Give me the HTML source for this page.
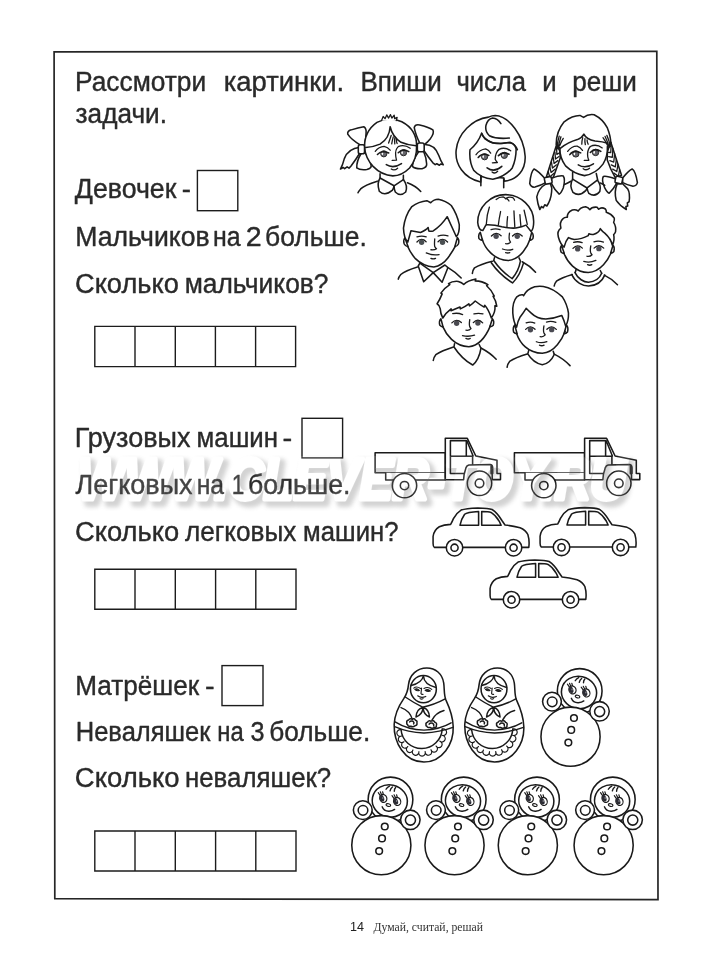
<!DOCTYPE html>
<html><head><meta charset="utf-8">
<style>
html,body{margin:0;padding:0;background:#fff;}
body{width:708px;height:960px;overflow:hidden;}
svg{display:block;}
.t{font-family:"Liberation Sans",sans-serif;font-size:27px;fill:#2a2a2a;stroke:#2a2a2a;stroke-width:0.4px;stroke-linejoin:round;}
.l{fill:none;stroke:#1a1a1a;stroke-width:1.55;stroke-linecap:round;stroke-linejoin:round;}
.lw{fill:#fff;stroke:#1a1a1a;stroke-width:1.55;stroke-linecap:round;stroke-linejoin:round;}
.ns *{vector-effect:non-scaling-stroke;}
.th{stroke-width:1.3 !important;}
.bx{fill:none;stroke:#1c1c1c;stroke-width:1.4;}
</style></head><body>
<svg width="708" height="960" viewBox="0 0 708 960">
<rect width="708" height="960" fill="#fff"/>
<!-- FRAME -->
<path d="M54.1 51.9L656.8 51.3L658 899.7L54.8 898.7Z" fill="none" stroke="#262626" stroke-width="1.7"/>
<!-- TEXT -->
<g class="t" opacity="0.995">
<text id="w1" x="75.0" y="91.4" textLength="131.2" lengthAdjust="spacingAndGlyphs">Рассмотри</text>
<text id="w2" x="223.7" y="91.4" textLength="120.5" lengthAdjust="spacingAndGlyphs">картинки.</text>
<text id="w3" x="360.4" y="91.4" textLength="81.3" lengthAdjust="spacingAndGlyphs">Впиши</text>
<text id="w4" x="456.4" y="91.4" textLength="69.6" lengthAdjust="spacingAndGlyphs">числа</text>
<text id="w5" x="542.2" y="91.4" textLength="14.4" lengthAdjust="spacingAndGlyphs">и</text>
<text id="w6" x="572.2" y="91.4" textLength="64.6" lengthAdjust="spacingAndGlyphs">реши</text>
<text id="w7" x="75.6" y="123.1" textLength="91.4" lengthAdjust="spacingAndGlyphs">задачи.</text>

<text id="w8" x="74.8" y="198.3" textLength="101.6" lengthAdjust="spacingAndGlyphs">Девочек</text>
<text id="w9" x="181.8" y="198.3" textLength="9.2" lengthAdjust="spacingAndGlyphs">-</text>
<text id="w10" x="75.2" y="245.6" textLength="134.4" lengthAdjust="spacingAndGlyphs">Мальчиков</text>
<text id="w11" x="213.0" y="245.6" textLength="27.6" lengthAdjust="spacingAndGlyphs">на</text>
<text id="w12" x="245.8" y="245.6" textLength="15.9" lengthAdjust="spacingAndGlyphs">2</text>
<text id="w13" x="265.0" y="245.6" textLength="101.8" lengthAdjust="spacingAndGlyphs">больше.</text>
<text id="w14" x="75.0" y="293" textLength="103.8" lengthAdjust="spacingAndGlyphs">Сколько</text>
<text id="w15" x="184.7" y="293" textLength="143.8" lengthAdjust="spacingAndGlyphs">мальчиков?</text>

<text id="w16" x="74.7" y="447" textLength="115.8" lengthAdjust="spacingAndGlyphs">Грузовых</text>
<text id="w17" x="196.6" y="447" textLength="81.4" lengthAdjust="spacingAndGlyphs">машин</text>
<text id="w18" x="282.4" y="447" textLength="9.7" lengthAdjust="spacingAndGlyphs">-</text>
<text id="w19" x="75.5" y="494" textLength="117.1" lengthAdjust="spacingAndGlyphs">Легковых</text>
<text id="w20" x="196.7" y="494" textLength="27.4" lengthAdjust="spacingAndGlyphs">на</text>
<text id="w21" x="231.8" y="494" textLength="12.6" lengthAdjust="spacingAndGlyphs">1</text>
<text id="w22" x="247.9" y="494" textLength="102.6" lengthAdjust="spacingAndGlyphs">больше.</text>
<text id="w23" x="75.0" y="540.5" textLength="104.3" lengthAdjust="spacingAndGlyphs">Сколько</text>
<text id="w24" x="184.9" y="540.5" textLength="111.5" lengthAdjust="spacingAndGlyphs">легковых</text>
<text id="w25" x="303.1" y="540.5" textLength="95.4" lengthAdjust="spacingAndGlyphs">машин?</text>

<text id="w26" x="75.2" y="694.5" textLength="123.9" lengthAdjust="spacingAndGlyphs">Матрёшек</text>
<text id="w27" x="205.0" y="694.5" textLength="9.6" lengthAdjust="spacingAndGlyphs">-</text>
<text id="w28" x="75.7" y="741.3" textLength="134.8" lengthAdjust="spacingAndGlyphs">Неваляшек</text>
<text id="w29" x="217.3" y="741.3" textLength="26.4" lengthAdjust="spacingAndGlyphs">на</text>
<text id="w30" x="250.6" y="741.3" textLength="14.0" lengthAdjust="spacingAndGlyphs">3</text>
<text id="w31" x="269.2" y="741.3" textLength="101.0" lengthAdjust="spacingAndGlyphs">больше.</text>
<text id="w32" x="74.8" y="787" textLength="104.8" lengthAdjust="spacingAndGlyphs">Сколько</text>
<text id="w33" x="185.0" y="787" textLength="146.2" lengthAdjust="spacingAndGlyphs">неваляшек?</text>
</g>
<!-- BOXES -->
<g class="bx">
<rect x="197.4" y="170.5" width="40.4" height="40.2"/>
<rect x="302" y="418.3" width="40.6" height="39.6"/>
<rect x="222" y="665.6" width="41" height="40"/>
<path d="M94.8 326.4H295.6V366.6H94.8ZM135 326.4V366.6M175.3 326.4V366.6M215.4 326.4V366.6M255.6 326.4V366.6"/>
<path d="M94.8 569.3H296V609.3H94.8ZM135 569.3V609.3M175.3 569.3V609.3M215.6 569.3V609.3M255.8 569.3V609.3"/>
<path d="M94.8 831H296V871H94.8ZM135 831V871M175.3 831V871M215.6 831V871M255.8 831V871"/>
</g>
<!-- FOOTER -->
<g opacity="0.995">
<text x="350" y="931" style='font-family:"Liberation Sans",sans-serif;font-size:13.5px;fill:#222;' textLength="14" lengthAdjust="spacingAndGlyphs">14</text>
<text x="373.5" y="931" style='font-family:"Liberation Serif",serif;font-size:12px;fill:#333;' textLength="109.5" lengthAdjust="spacingAndGlyphs">Думай, считай, решай</text>
</g>
<!-- ART -->
<g id="art">
<defs>
<g id="truck">
  <path class="lw" d="M375.1 452.8H445.3V472.8H375.1Z"/>
  <path class="lw" d="M385.7 472.8V480H445.3V472.8"/>
  <path class="lw" d="M445.3 479.8V438.3H467.3L475.8 456L497 460.2V473.4H500.5V479.6H492.2V473.4H492.7V467.6Q492.5 464.6 490.1 464.4L468.9 465Q466.8 465.6 466 467.6L464.1 474.5L463.6 479.8Z"/>
  <path class="l" d="M491.4 466V473.4" style="stroke-width:2.2"/>
  <path class="l" d="M463.8 473.4H450.4V440.6H466.3V456.2M450.4 456.3H472.6V464.2M466.9 440.8L473.1 456"/>
  <circle class="lw" cx="479.5" cy="483.3" r="12.2"/><circle class="lw" cx="479.5" cy="483.3" r="4.3"/>
  <circle class="lw" cx="404.5" cy="485.6" r="12.2"/><circle class="lw" cx="404.5" cy="485.6" r="4.2"/>
</g>
<g id="car" transform="translate(425,500) scale(0.15538)">
  <path class="lw" vector-effect="non-scaling-stroke" d="M60 305Q52 300 52 280V235Q56 195 92 172Q120 160 165 157Q175 140 183 120Q200 85 232 65Q262 54 340 51Q410 52 432 61Q465 82 495 132L515 161Q560 166 612 178Q648 192 662 222Q674 262 668 305Z"/>
  <path class="l" vector-effect="non-scaling-stroke" d="M225 163Q232 125 255 92Q270 78 345 74V163ZM365 163V74Q410 74 425 80Q455 98 478 137L490 163Z"/>
  <circle class="lw" vector-effect="non-scaling-stroke" cx="190" cy="307" r="53"/><circle class="lw" vector-effect="non-scaling-stroke" cx="190" cy="307" r="23"/>
  <circle class="lw" vector-effect="non-scaling-stroke" cx="570" cy="307" r="53"/><circle class="lw" vector-effect="non-scaling-stroke" cx="570" cy="307" r="23"/>
</g>
</defs>
<use href="#truck"/>
<use href="#truck" x="139.3" y="0"/>
<use href="#car"/>
<use href="#car" x="107" y="-0.3"/>
<use href="#car" x="57" y="52"/>

<defs>
<g id="nev" transform="translate(345,770) scale(0.11461)">
 <g class="lw" >
  <circle vector-effect="non-scaling-stroke" cx="397" cy="257" r="195"/>
  <ellipse vector-effect="non-scaling-stroke" cx="391" cy="270" rx="154" ry="141" transform="rotate(12 391 270)"/>
  <circle vector-effect="non-scaling-stroke" cx="317" cy="656" r="258"/>
  <circle vector-effect="non-scaling-stroke" cx="155" cy="350" r="82"/>
  <circle vector-effect="non-scaling-stroke" cx="157" cy="352" r="42"/>
  <circle vector-effect="non-scaling-stroke" cx="570" cy="435" r="85"/>
  <circle vector-effect="non-scaling-stroke" cx="571" cy="437" r="44"/>
  <circle vector-effect="non-scaling-stroke" cx="347" cy="493" r="29"/>
  <circle vector-effect="non-scaling-stroke" cx="323" cy="597" r="29"/>
  <circle vector-effect="non-scaling-stroke" cx="298" cy="707" r="29"/>
 </g>
 <g class="l" style="stroke-width:1.4">
  <path vector-effect="non-scaling-stroke" d="M358 168Q368 150 388 140M393 182Q398 160 414 148M430 186Q430 165 442 153"/>
  <path vector-effect="non-scaling-stroke" d="M324 321Q340 362 385 360Q415 358 433 344"/>
 </g>
 <g class="l" style="stroke-width:1.15">
  <ellipse vector-effect="non-scaling-stroke" cx="378" cy="306" rx="20" ry="12" transform="rotate(12 378 306)"/>
  <ellipse vector-effect="non-scaling-stroke" cx="334" cy="248" rx="31" ry="35" transform="rotate(-20 334 248)"/>
  <ellipse vector-effect="non-scaling-stroke" cx="455" cy="274" rx="31" ry="35" transform="rotate(-20 455 274)"/>
  <path vector-effect="non-scaling-stroke" d="M306 222L290 198M318 214L308 190M334 210L328 190M427 248L410 224M440 240L428 216M456 236L450 216"/>
 </g>
 <ellipse cx="322" cy="246" rx="19" ry="30" transform="rotate(-20 322 246)" fill="#2c2c34"/>
 <ellipse cx="443" cy="272" rx="19" ry="30" transform="rotate(-20 443 272)" fill="#2c2c34"/>
 <ellipse cx="330" cy="244" rx="5" ry="9" fill="#9a9aa0"/><ellipse cx="451" cy="270" rx="5" ry="9" fill="#9a9aa0"/>
</g>
</defs>
<use href="#nev"/>
<use href="#nev" x="73.2" y="0"/>
<use href="#nev" x="146.5" y="0"/>
<use href="#nev" x="222.3" y="0"/>
<use href="#nev" x="189.2" y="-108.5"/>


<defs>
<g id="mat" transform="translate(385,660) scale(0.11461)">
 <path class="lw" vector-effect="non-scaling-stroke" d="M365 70C280 70 215 130 205 215C200 270 188 300 165 335C120 400 85 470 80 560C75 720 170 890 340 890C500 890 602 730 595 580C592 480 560 410 532 350C512 300 520 250 512 200C500 120 440 70 365 70Z"/>
 <ellipse class="lw" vector-effect="non-scaling-stroke" cx="335" cy="254" rx="113" ry="119"/>
 <g class="l" style="stroke-width:1.45">
  <path vector-effect="non-scaling-stroke" d="M335 138Q322 200 228 222M335 138Q340 215 445 240"/>
  <path vector-effect="non-scaling-stroke" d="M180 325Q250 372 328 412Q430 392 525 340"/>
  <path vector-effect="non-scaling-stroke" d="M326 414Q275 430 270 497Q325 478 331 420M336 414Q385 432 388 497Q338 478 333 420"/>
  <path vector-effect="non-scaling-stroke" d="M140 415Q215 440 240 520M515 440Q440 460 410 525"/>
  <path vector-effect="non-scaling-stroke" d="M88 540Q200 610 340 612Q480 605 577 548M84 582Q200 632 340 637Q480 630 592 588"/>
  <path vector-effect="non-scaling-stroke" style="stroke-width:1.5" d="M140 609 A180 180 0 0 0 499 603"/>
  <path vector-effect="non-scaling-stroke" style="stroke-width:1.15" d="M140 609A29 29 0 1 0 145 663A29 29 0 1 0 165 713A29 29 0 1 0 199 755A29 29 0 1 0 244 785A29 29 0 1 0 296 800A29 29 0 1 0 350 799A29 29 0 1 0 401 783A29 29 0 1 0 445 751A29 29 0 1 0 478 708A29 29 0 1 0 497 657A29 29 0 1 0 499 603"/>
 </g>
 <g class="l" style="stroke-width:1.1">
  <path vector-effect="non-scaling-stroke" style="stroke-width:1.5" d="M190 548Q186 528 205 524Q215 508 235 516Q255 505 265 525Q285 530 278 550Q285 568 262 574Q245 590 225 578Q200 582 198 565Q186 560 190 548ZM215 540Q225 528 245 535Q258 545 250 558"/>
  <path vector-effect="non-scaling-stroke" style="stroke-width:1.5" d="M358 568Q352 548 372 542Q380 524 402 534Q425 522 436 544Q456 550 448 572Q452 590 428 590Q410 600 392 588Q368 592 366 578Q355 575 358 568ZM385 560Q395 546 415 552Q430 560 425 575"/>
  <path vector-effect="non-scaling-stroke" d="M251 245Q275 224 310 249M340 249Q375 228 408 257"/>
  <path vector-effect="non-scaling-stroke" d="M260 256Q282 244 300 266Q278 274 260 256ZM350 264Q374 250 396 270Q372 280 350 264Z" fill="#444"/>
  <path vector-effect="non-scaling-stroke" d="M319 245Q316 275 314 292Q318 302 332 300"/>
  <path vector-effect="non-scaling-stroke" d="M285 312Q315 336 356 318M306 337Q319 346 332 337"/>
 </g>
</g>
</defs>
<use href="#mat"/>
<use href="#mat" x="70.6" y="0"/>


<g id="f1" class="ns" transform="translate(335,105) scale(0.15538)">
 <!-- pigtails -->
 <path class="lw" d="M160 272Q85 280 60 345Q50 385 35 412L52 402L62 410L78 398L90 406L102 394Q135 350 158 312Z"/>
 <path class="lw" d="M570 255Q640 250 668 325Q680 360 697 385L680 380L672 388L655 378L645 384L630 372Q600 335 575 298Z"/>
 <!-- bows -->
 <path class="lw" d="M170 262Q105 225 82 188Q78 168 105 160Q150 145 185 140Q203 150 200 180Q198 225 192 258Z"/>
 <path class="lw" d="M168 312Q138 362 140 405Q160 420 205 415Q238 408 232 385Q222 345 196 308Z"/>
 <path class="lw" d="M548 250Q518 190 510 145Q515 122 545 128Q600 140 630 160Q640 180 615 215Q595 240 575 255Z"/>
 <path class="lw" d="M540 298Q500 355 498 395Q515 412 560 410Q592 402 590 380Q588 340 570 298Z"/>
 <!-- head -->
 <path class="lw" d="M190 272Q188 170 270 112Q350 70 430 108Q528 160 525 265Q528 345 480 405Q430 455 372 456Q300 452 245 395Q195 340 190 272Z"/>
 <rect class="lw" x="150" y="256" width="40" height="58" rx="12"/>
 <rect class="lw" x="530" y="245" width="44" height="56" rx="12"/>
 <!-- hair -->
 <path class="l" d="M355 140Q350 215 290 252Q250 270 198 273M355 140Q370 205 425 240Q470 260 522 262"/>
 <path class="lw th" d="M300 99L310 74L322 88L333 64L345 84L357 62L366 84L381 66L384 88L400 80L394 101"/>
 <path class="l th" d="M362 195Q352 225 345 245M375 205Q368 230 365 250M385 212Q382 235 385 250M395 222Q395 238 400 248"/>
 <!-- face -->
 <path class="l th" d="M259 298Q282 268 316 266Q340 272 355 291M484 278Q445 252 407 268Q385 288 391 330Q393 345 396 355L368 357"/>
 <circle cx="314" cy="314" r="20" fill="#66666c" stroke="#2a2a2a" stroke-width="1"/><circle cx="441" cy="307" r="20" fill="#66666c" stroke="#2a2a2a" stroke-width="1"/>
 <ellipse cx="305" cy="312" rx="5" ry="10" fill="#fff"/><ellipse cx="432" cy="305" rx="5" ry="10" fill="#fff"/>
 <path class="l" d="M273 318Q300 288 346 309M407 307Q436 278 475 300"/>
 <path class="l" d="M330 384Q375 412 428 377"/><path class="l th" d="M362 412Q382 426 403 407"/>
 <!-- neck + collar -->
 <path class="l" d="M290 442V472M440 452V482"/>
 <path class="lw" d="M290 470Q268 505 285 555Q320 590 368 550Q378 535 380 520Z"/>
 <path class="lw" d="M440 480Q470 520 455 560Q420 592 388 560Q380 540 380 520Z"/>
 <path class="l" d="M272 490Q190 515 165 540Q152 555 148 565M466 500Q520 520 552 556"/>
</g>

<g id="f2" class="ns" transform="translate(440,105) scale(0.15538)">
 <path class="lw" d="M262 496C150 470 95 380 104 290C115 185 205 92 312 78Q335 68 355 68C445 72 540 200 548 330C552 420 495 482 415 490L410 470L265 458Z"/>
 <path class="lw" d="M268 182Q245 245 193 288Q186 365 218 422Q262 470 340 478Q420 462 465 405Q490 350 490 282Q485 258 470 250Q440 238 400 248Q330 250 290 218Q274 200 268 182Z"/>
 <path class="l" d="M392 120Q372 88 338 84Q306 92 296 130Q288 170 318 198Q360 220 446 213"/>
 <path class="l" d="M268 182Q282 222 340 244Q400 252 450 240Q484 252 498 288"/>
 <path class="l th" d="M232 320Q255 288 294 283Q315 290 326 310M455 295Q418 268 380 285Q355 310 355 349Q362 362 369 370L337 372"/>
 <circle cx="287" cy="333" r="20" fill="#66666c" stroke="#2a2a2a" stroke-width="1"/><circle cx="414" cy="324" r="20" fill="#66666c" stroke="#2a2a2a" stroke-width="1"/>
 <ellipse cx="278" cy="331" rx="5" ry="10" fill="#fff"/><ellipse cx="405" cy="322" rx="5" ry="10" fill="#fff"/>
 <path class="l" d="M246 338Q270 305 314 324M376 326Q405 295 444 317"/>
 <path class="l" d="M303 404Q348 438 398 395"/><path class="l th" d="M335 431Q353 446 371 426"/>
 <path class="l" d="M263 456V520M410 470V532"/>
</g>

<g id="f3" class="ns" transform="translate(520,105) scale(0.17655)">
 <!-- braids -->
 <path class="lw" d="M207 225L150 405L188 412Q212 345 228 300L226 262Z"/>
 <path class="lw" d="M514 210L575 398L540 412Q512 365 494 310L495 265Z"/>
 <path class="l th" d="M207 242 L209 280 L228 268M198 269 L201 306 L221 292M188 296 L193 331 L214 315M178 324 L184 357 L207 339M169 351 L176 382 L200 363M160 378 L168 408 L193 386"/>
 <path class="l th" d="M517 215 L514 269 L494 268M526 246 L523 296 L502 292M536 276 L531 323 L509 315M546 306 L540 350 L517 339M555 337 L548 377 L525 363M564 368 L557 404 L532 386"/>
 <!-- tails -->
 <path class="lw" d="M150 445Q105 470 95 520Q100 560 112 592L122 575L132 582L140 565L152 572L162 555Q180 520 180 470L172 445Z"/>
 <path class="lw" d="M550 448Q532 490 545 540Q565 570 602 592L600 575L610 572L608 555L618 548Q625 500 610 475L580 445Z"/>
 <!-- bows -->
 <path class="lw" d="M145 420Q100 370 80 362Q62 375 55 445Q62 468 85 465Q120 455 145 440Z"/>
 <path class="lw" d="M180 415Q225 398 245 402Q258 420 245 470Q232 500 222 505Q195 480 175 440Z"/>
 <path class="lw" d="M542 420Q490 400 472 405Q460 425 480 470Q495 498 505 500Q530 475 546 445Z"/>
 <path class="lw" d="M580 415Q615 370 635 362Q655 375 665 440Q660 460 640 460Q605 452 582 440Z"/>
 <rect class="lw" x="140" y="408" width="40" height="38" rx="8" transform="rotate(-12 160 427)"/>
 <rect class="lw" x="540" y="406" width="40" height="38" rx="8" transform="rotate(12 560 425)"/>
 <!-- head -->
 <path class="lw" d="M205 222Q205 150 250 95Q300 58 342 60L360 70Q385 50 420 55Q470 80 495 130Q515 180 514 218L495 235Q498 290 470 335Q430 390 365 400Q305 390 258 345Q225 300 226 245Z"/>
 <path class="l" d="M228 246Q270 212 325 196Q352 185 362 165Q375 195 425 204Q470 208 497 216"/>
 <path class="l th" d="M222 176Q212 210 208 245M232 180Q222 210 214 248M245 189Q232 210 224 232M492 172Q505 200 512 235M482 178Q496 205 505 240M470 185Q485 205 495 228"/>
 <path class="l th" d="M355 185Q350 205 350 222M368 190Q366 208 370 224M380 198Q380 212 386 222"/>
 <!-- face -->
 <path class="l th" d="M270 263Q292 232 324 233Q342 240 354 257M466 243Q432 218 398 235Q378 258 384 295Q387 305 390 313L364 314"/>
 <circle cx="316" cy="277" r="18" fill="#66666c" stroke="#2a2a2a" stroke-width="1"/><circle cx="428" cy="269" r="18" fill="#66666c" stroke="#2a2a2a" stroke-width="1"/>
 <ellipse cx="308" cy="275" rx="4.5" ry="9" fill="#fff"/><ellipse cx="420" cy="267" rx="4.5" ry="9" fill="#fff"/>
 <path class="l" d="M282 281Q304 250 344 271M398 269Q424 240 458 263"/>
 <path class="l" d="M330 339Q370 364 416 333"/><path class="l th" d="M358 361Q376 374 394 358"/>
 <!-- neck + collar -->
 <path class="l" d="M298 382V420M432 388L440 425"/>
 <path class="lw" d="M298 420Q278 455 300 495Q335 522 372 485Q378 478 380 470Z"/>
 <path class="lw" d="M438 425Q462 455 452 490Q425 525 390 500Q382 485 380 470Z"/>
 <path class="l" d="M252 450Q270 442 288 432M455 442Q468 446 480 455"/>
</g>

<g id="f4" class="ns" transform="translate(390,190) scale(0.12712)">
 <path class="lw" d="M118 375Q102 392 112 425Q122 445 142 446ZM530 375Q548 392 538 425Q528 445 510 446Z"/>
 <path class="l" d="M138 440Q160 495 200 540Q260 600 345 606Q410 595 455 535Q495 480 514 442"/>
 <path class="lw" d="M140 410Q110 385 106 300Q118 200 172 130Q225 90 290 84L320 100Q345 72 380 72Q440 85 482 122Q528 190 545 272Q548 340 522 368L450 210Q405 280 340 322Q320 328 305 322L300 295Q285 315 240 334L165 320Z"/>
 <path class="l th" d="M212 368Q250 358 285 368M378 362Q415 350 456 360M212 409Q248 370 284 407M378 407Q414 370 453 409"/>
 <circle cx="249" cy="411" r="21" fill="#4a4f52"/><circle cx="413" cy="411" r="21" fill="#4a4f52"/>
 <path class="l th" d="M352 385Q348 425 352 445Q360 458 366 462Q350 474 322 470M285 495Q335 518 386 508M322 538Q340 547 358 538"/>
 <path class="lw" d="M235 576L222 598L265 722L340 650ZM432 590L456 610L410 726L340 650Z"/>
 <path class="l" d="M216 606Q120 635 85 665Q68 685 65 702M460 612Q520 648 560 692"/>
</g>

<g id="f5" class="ns" transform="translate(465,188) scale(0.12712)">
 <path class="lw" d="M120 348Q102 365 110 398Q120 412 138 412ZM525 348Q543 365 534 398Q525 412 508 412Z"/>
 <path class="l" d="M135 402C155 470 225 568 340 570C440 562 495 455 514 398"/>
 <path class="lw" d="M140 335Q105 330 100 270C100 150 200 52 320 52C440 52 540 150 540 260Q542 320 520 342L480 292Q450 306 400 315Q345 318 290 305Q230 288 165 290Z"/>
 <path class="l th" d="M245 90Q268 70 300 70Q315 75 320 86M326 80Q348 66 375 75Q386 84 390 96M330 86Q340 92 346 102"/>
 <path class="l th" d="M192 150Q170 215 168 282M280 185Q268 240 262 292M335 225Q330 265 330 306M385 180Q388 245 392 308M432 210Q435 255 440 302M465 175Q478 230 490 286"/>
 <path class="l th" d="M205 328Q240 316 276 328M208 378Q245 338 284 376M374 378Q410 338 450 378"/>
 <circle cx="245" cy="380" r="21" fill="#4a4a52"/><circle cx="411" cy="380" r="21" fill="#4a4a52"/>
 <path class="l th" d="M350 355Q344 395 350 410Q354 420 358 426Q345 442 320 438M295 480Q335 496 376 482M320 508Q337 515 352 508"/>
 <path class="l" d="M232 548L226 570M425 550L436 574"/>
 <path class="l" d="M207 588Q270 680 374 747Q432 690 460 591M229 574Q285 655 371 713Q422 655 435 580"/>
 <path class="l" d="M215 576Q120 600 75 628Q60 648 58 672M450 580Q512 612 555 662"/>
</g>

<g id="f6" class="ns" transform="translate(545,195) scale(0.12712)">
 <path class="lw" d="M130 398Q115 415 126 448Q136 460 152 460ZM535 395Q550 410 542 444Q532 458 516 458Z"/>
 <path class="l" d="M150 460C175 525 240 610 340 610C440 605 500 505 520 452"/>
 <path class="lw" d="M150 410Q120 385 105 330Q92 285 125 260Q112 215 140 188Q155 172 176 175Q172 138 215 118Q240 112 262 126Q275 98 320 92Q342 98 352 116Q368 92 410 96L422 112Q445 92 475 110Q484 122 482 136Q522 148 545 182Q548 200 540 215Q562 250 555 290Q550 305 540 312Q550 352 530 396Q520 345 470 300Q450 285 435 265Q425 298 380 310Q360 312 345 305L340 320Q290 348 230 350Q205 345 185 335Q160 365 150 410Z"/>
 <path class="l th" d="M225 373Q258 362 292 375M385 368Q420 358 460 370M220 420Q256 382 294 418M386 418Q424 380 462 418"/>
 <circle cx="257" cy="424" r="21" fill="#4a4a52"/><circle cx="424" cy="422" r="21" fill="#4a4a52"/>
 <path class="l th" d="M360 400Q353 438 360 455Q365 465 370 470Q355 487 330 482M305 522Q352 536 400 514M335 548Q352 557 368 548"/>
 <path class="l" d="M245 585L238 610M435 594L446 616"/>
 <path class="l" d="M210 625C240 690 300 716 342 716C390 714 445 690 470 630M236 610C260 660 305 686 342 686C385 684 425 665 446 616"/>
 <path class="l" d="M215 625Q130 650 90 678Q75 695 72 716M466 630Q522 656 570 706"/>
</g>

<g id="f7" class="ns" transform="translate(425,272) scale(0.12712)">
 <path class="lw" d="M125 368Q108 385 116 418Q126 432 142 432ZM530 368Q547 385 537 418Q527 430 510 430Z"/>
 <path class="l" d="M140 430C165 490 230 585 345 588C440 580 495 470 515 422"/>
 <path class="lw" d="M140 362Q122 330 120 290Q115 262 95 250Q118 215 135 172L125 166Q155 125 195 100L185 92Q215 70 262 74Q290 82 305 98Q335 68 400 55L395 70Q450 72 495 100L485 108Q520 138 545 190L535 190Q560 228 565 270L550 265Q556 315 522 362Q500 295 470 262L465 276Q428 255 395 228Q375 250 350 266L345 250Q312 275 278 290L275 275Q240 290 205 305V290Q165 320 140 362Z"/>
 <path class="l th" d="M218 328Q255 318 296 335M385 330Q420 320 456 330M211 400Q248 362 286 398M380 398Q416 360 454 400"/>
 <circle cx="249" cy="403" r="21" fill="#4a4a50"/><circle cx="416" cy="402" r="21" fill="#4a4a50"/>
 <path class="l th" d="M352 375Q346 415 352 430Q357 440 362 446Q348 462 322 458M295 500Q342 512 390 497M322 522Q340 532 356 522"/>
 <path class="l" d="M232 565L228 590Q290 685 375 732Q425 690 440 600L426 570"/>
 <path class="l" d="M224 590Q130 620 85 650Q68 670 65 696M440 598Q512 636 560 686"/>
</g>

<g id="f8" class="ns" transform="translate(495,275) scale(0.12712)">
 <path class="lw" d="M155 393Q138 410 146 448Q156 462 174 462ZM562 393Q580 410 570 448Q560 462 543 462Z"/>
 <path class="l" d="M170 460C195 535 260 615 372 616C470 610 530 500 552 442"/>
 <path class="lw" d="M170 410Q145 370 140 300Q135 215 172 172Q195 152 218 155L225 162Q250 112 312 92Q345 86 380 90Q455 102 530 172Q568 230 578 300Q580 360 556 402Q545 360 525 318Q470 340 400 346Q330 345 285 300Q262 280 245 262Q225 295 198 330Q178 365 170 410Z"/>
 <path class="l th" d="M245 376Q280 364 313 378M405 370Q440 360 479 372M241 428Q278 390 315 427M408 427Q445 388 482 428"/>
 <circle cx="279" cy="431" r="21" fill="#4a4a52"/><circle cx="446" cy="430" r="21" fill="#4a4a52"/>
 <path class="l th" d="M385 400Q378 440 385 455Q390 465 395 471Q380 490 355 485M325 525Q366 540 408 524M350 552Q368 561 386 552"/>
 <path class="l" d="M265 595L258 620Q300 690 372 706Q435 695 466 625L458 600"/>
 <path class="l" d="M253 622Q160 650 115 680Q98 700 95 726M466 622Q542 660 590 713"/>
</g>
<!--FACES-->
</g>

<!-- WATERMARK -->
<defs><filter id="wmb" x="-5%" y="-20%" width="110%" height="140%"><feGaussianBlur stdDeviation="2"/></filter>
<mask id="wmm" maskUnits="userSpaceOnUse" x="60" y="440" width="600" height="80"><rect x="60" y="440" width="600" height="80" fill="#fff"/>
<text x="78" y="499" textLength="548" lengthAdjust="spacingAndGlyphs" fill="#000" stroke="#000" stroke-width="5" stroke-linejoin="round" style='font-family:"Liberation Sans",sans-serif;font-weight:bold;font-style:italic;font-size:58px;'>WWW.CLEVER-TOY.RU</text></mask></defs>
<g style='font-family:"Liberation Sans",sans-serif;font-weight:bold;font-style:italic;font-size:58px;' stroke-linejoin="round">
<g mask="url(#wmm)"><text x="82" y="503" textLength="548" lengthAdjust="spacingAndGlyphs" fill="#777" stroke="#777" stroke-width="8" opacity="0.32" filter="url(#wmb)">WWW.CLEVER-TOY.RU</text></g>
<text x="78" y="499" textLength="548" lengthAdjust="spacingAndGlyphs" fill="#fff" stroke="#fff" stroke-width="6" opacity="0.12">WWW.CLEVER-TOY.RU</text>
</g>
</svg>
</body></html>
